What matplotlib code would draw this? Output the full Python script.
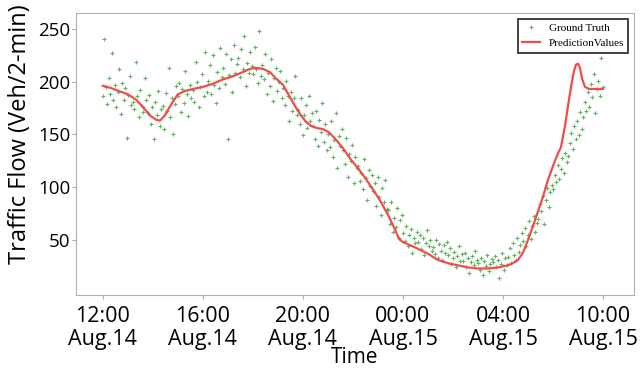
import numpy as np
import matplotlib
matplotlib.use("Agg")
import matplotlib.pyplot as plt

# ground truth flow (veh / 2-min)
truth = [
    186, 240, 195, 179, 203, 188, 227, 183, 197, 176,
    190, 212, 169, 199, 183, 194, 147, 187, 205, 178,
    181, 174, 219, 186, 166, 192, 177, 171, 203, 183,
    170, 187, 160, 176, 146, 181, 168, 191, 158, 174,
    177, 155, 189, 172, 213, 166, 184, 150, 179, 196,
    186, 199, 171, 193, 180, 210, 188, 167, 197, 184,
    192, 181, 219, 200, 176, 195, 207, 186, 228, 190,
    201, 216, 188, 225, 197, 180, 209, 194, 232, 204,
    213, 198, 226, 146, 206, 221, 190, 235, 208, 217,
    222, 204, 231, 212, 243, 196, 218, 208, 228, 215,
    207, 233, 212, 199, 248, 205, 216, 202, 226, 188,
    208, 196, 221, 182, 203, 213, 191, 200, 210, 184,
    194, 178, 201, 186, 163, 190, 172, 184, 205, 168,
    173, 160, 184, 149, 168, 178, 156, 186, 163, 170,
    158, 146, 172, 139, 164, 152, 180, 143, 160, 135,
    150, 138, 163, 129, 145, 170, 118, 148, 139, 155,
    135, 122, 147, 110, 131, 125, 140, 104, 129, 118,
    120, 106, 113, 98, 127, 109, 88, 116, 101, 112,
    96, 104, 82, 110, 91, 74, 99, 86, 107, 79,
    78, 65, 86, 58, 71, 62, 80, 52, 69, 74,
    57, 49, 63, 44, 55, 60, 38, 52, 47, 58,
    48, 55, 41, 52, 36, 47, 59, 44, 50, 40,
    43, 37, 50, 33, 46, 40, 31, 45, 38, 48,
    36, 42, 27, 33, 39, 24, 35, 44, 30, 37,
    30, 38, 24, 33, 19, 29, 35, 26, 40, 31,
    28, 22, 33, 17, 30, 25, 36, 21, 27, 32,
    29, 35, 24, 31, 14, 27, 38, 22, 33, 26,
    34, 42, 28, 47, 36, 31, 52, 39, 45, 57,
    49, 61, 44, 55, 68, 51, 63, 73, 58, 66,
    70, 84, 77, 92, 65, 88, 99, 81, 95, 102,
    98, 112, 105, 121, 108, 117, 128, 113, 132, 124,
    130, 142, 151, 136, 158, 146, 163, 149, 171, 155,
    166, 181, 172, 190, 176, 198, 185, 207, 170, 193,
    201, 186, 222, 195,
]

# prediction curve (position on time axis, value)
pred_pos = [0, 8, 16, 25, 33, 40, 47, 53, 57, 62, 68, 75, 82, 90, 100, 110,
            120, 130, 140, 147, 153, 160, 167, 173, 180, 186, 192, 198, 203,
            208, 214, 220, 226, 233, 240, 248, 255, 262, 270, 278, 286, 292,
            296, 300, 312, 325, 335, 345, 355, 365, 375, 385, 395, 405, 410,
            415, 420, 425, 430, 435, 440, 445, 450, 455, 458, 462, 466, 469,
            471, 473, 475, 477, 479, 482, 486, 500]
pred = [196, 194, 191, 188, 183, 176, 168, 164, 163, 168, 178, 188, 191, 193,
        195, 198, 202, 205, 209, 212, 213, 212, 209, 203, 197, 187, 177, 168,
        162, 158, 156, 155, 152, 145, 137, 126, 118, 109, 98, 86, 72, 60, 51,
        48, 43, 37, 31, 28, 26, 24, 23, 23, 24, 26, 28, 31, 38, 50, 63, 77,
        91, 107, 120, 132, 138, 158, 183, 200, 210, 216, 217, 213, 203, 195,
        193, 193]

tick_pos = [0, 100, 200, 300, 400, 500]
tick_labels = ["12:00\nAug.14", "16:00\nAug.14", "20:00\nAug.14",
               "00:00\nAug.15", "04:00\nAug.15", "10:00\nAug.15"]

plt.rcParams["font.family"] = "Open Sans"

fig = plt.figure(figsize=(6.43, 3.70), dpi=100)
ax = fig.add_axes([0.118, 0.203, 0.868, 0.762])

x_truth = np.linspace(0, 500, len(truth))
ax.plot(x_truth, truth, linestyle="none", marker="+", markersize=3.5,
        markeredgewidth=0.8, color="#46a846", alpha=0.85, label="Ground Truth")
ax.plot(pred_pos, pred, color="#f04c4c", linewidth=1.6,
        label="PredictionValues")

ax.set_xlim(-27, 531)
ax.set_ylim(-2, 265)
ax.set_xticks(tick_pos)
ax.set_xticklabels(tick_labels, linespacing=1.1)
ax.set_yticks([50, 100, 150, 200, 250])
ax.tick_params(length=3, color="#aaaaaa")
ax.tick_params(axis="x", labelsize=15.5, pad=5)
ax.tick_params(axis="y", labelsize=13.5, pad=1)
for s in ax.spines.values():
    s.set_color("#b0b0b0")

ax.set_xlabel("Time", fontsize=15, labelpad=-2)
ax.set_ylabel("Traffic Flow (Veh/2-min)", fontsize=17)
ax.yaxis.set_label_coords(-0.078, 0.57)

leg = ax.legend(loc="upper right", prop={"family": "Liberation Serif", "size": 8},
                fancybox=False, edgecolor="#333333", framealpha=1,
                borderaxespad=0.5, handlelength=1.6, markerscale=0.8)
leg.get_frame().set_linewidth(1.3)

fig.savefig("out.png", dpi=100)
